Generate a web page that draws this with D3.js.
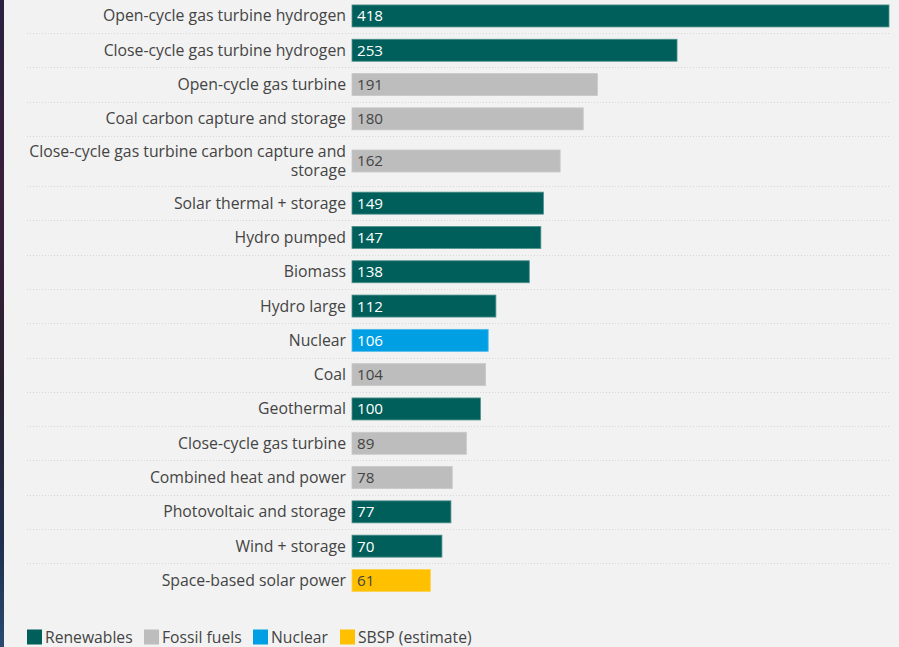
<!DOCTYPE html>
<html><head><meta charset="utf-8">
<script src="https://cdn.jsdelivr.net/npm/d3@7"></script>
<style>
html,body{margin:0;padding:0;background:#f2f2f2;}
svg{display:block;}
text{font-family:"Open Sans","Noto Sans",sans-serif;}
</style></head>
<body>
<svg id="c" width="899" height="647"></svg>
<script>
const categories = [
  "Open-cycle gas turbine hydrogen",
  "Close-cycle gas turbine hydrogen",
  "Open-cycle gas turbine",
  "Coal carbon capture and storage",
  "Close-cycle gas turbine carbon capture and|storage",
  "Solar thermal + storage",
  "Hydro pumped",
  "Biomass",
  "Hydro large",
  "Nuclear",
  "Coal",
  "Geothermal",
  "Close-cycle gas turbine",
  "Combined heat and power",
  "Photovoltaic and storage",
  "Wind + storage",
  "Space-based solar power"
];
const values = [418, 253, 191, 180, 162, 149, 147, 138, 112, 106, 104, 100, 89, 78, 77, 70, 61];
const groups = ["R","R","F","F","F","R","R","R","R","N","F","R","F","F","R","R","S"];
const legendKeys = ["R","F","N","S"];
const legendLabels = ["Renewables","Fossil fuels","Nuclear","SBSP (estimate)"];

const colors = {R:"#005f5b", F:"#bdbdbd", N:"#009fe3", S:"#ffc000"};
const strokes = {R:"#4f918d", F:"#c8c8c8", N:"#4dbbeb", S:"#ffd24d"};
const textCol = {R:"#ffffff", F:"#444444", N:"#ffffff", S:"#444444"};

const svg = d3.select("#c");

// thin background image strip at left edge
const defs = svg.append("defs");
const lg = defs.append("linearGradient").attr("id","strip").attr("x1",0).attr("y1",0).attr("x2",0).attr("y2",1);
[["0","#2a2140"],["0.3","#3a1f3a"],["0.6","#2a2030"],["0.85","#1f3050"],["1","#2a4a70"]].forEach(s=>lg.append("stop").attr("offset",s[0]).attr("stop-color",s[1]));
svg.append("rect").attr("x",0).attr("y",0).attr("width",4).attr("height",647).attr("fill","url(#strip)");

// row heights: two-line label row is taller
const pitch = 34.3;
const rowH = categories.map(c => c.includes("|") ? 50 : pitch);
const rowTop = [];
let acc = -1.2;
rowH.forEach(h => { rowTop.push(acc); acc += h; });

const x = d3.scaleLinear().domain([0, 418]).range([352, 889]);
const barH = 22;

const rows = svg.append("g").selectAll("g").data(categories).join("g")
  .attr("transform", (d,i) => `translate(0,${rowTop[i] + rowH[i]/2})`);

// separators
svg.append("g").selectAll("line").data(categories.slice(1)).join("line")
  .attr("x1", 27).attr("x2", 889)
  .attr("y1", (d,i) => Math.round(rowTop[i+1]) + 0.5)
  .attr("y2", (d,i) => Math.round(rowTop[i+1]) + 0.5)
  .attr("stroke", "#d6d6d6").attr("stroke-width", 1).attr("stroke-dasharray", "1,2");

rows.append("rect")
  .attr("x", x(0)).attr("y", -barH/2)
  .attr("width", (d,i) => x(values[i]) - x(0))
  .attr("height", barH)
  .attr("fill", (d,i) => colors[groups[i]])
  .attr("stroke", (d,i) => strokes[groups[i]]).attr("stroke-width", 0.8);

rows.append("text")
  .attr("x", 357).attr("y", 0).attr("dy", "0.36em")
  .attr("font-size", 15.2)
  .attr("fill", (d,i) => textCol[groups[i]])
  .text((d,i) => values[i]);

rows.each(function(d){
  const g = d3.select(this);
  const lines = d.split("|");
  const lh = 19;
  const t = g.append("text").attr("text-anchor","end").attr("font-size",15.8).attr("fill","#444444");
  lines.forEach((ln,k) => {
    t.append("tspan").attr("x", 346)
      .attr("y", (k - (lines.length-1)/2) * lh)
      .attr("dy","0.35em").text(ln);
  });
});

// legend
const legX = [27, 144, 253, 340];
const leg = svg.append("g").selectAll("g").data(legendKeys).join("g")
  .attr("transform", (d,i) => `translate(${legX[i]},637)`);
leg.append("rect").attr("x",0).attr("y",-7.5).attr("width",15).attr("height",15)
  .attr("fill", d => colors[d]);
leg.append("text").attr("x",18).attr("y",0).attr("dy","0.36em").attr("font-size",15.7)
  .attr("fill","#444444").text((d,i) => legendLabels[i]);
</script>
</body></html>
